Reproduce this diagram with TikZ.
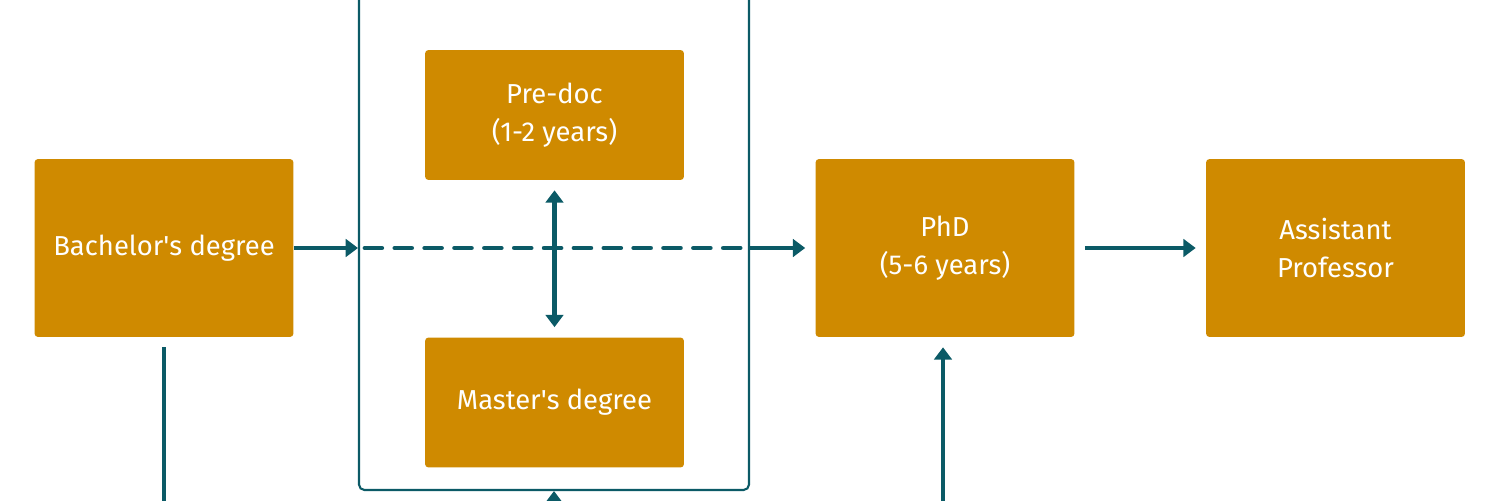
\documentclass[tikz,border=0pt]{standalone}
\usepackage{fontspec}
\setmainfont{Fira Sans}
\usetikzlibrary{arrows.meta}
\definecolor{gold}{HTML}{CF8A00}
\definecolor{teal}{HTML}{0B5A66}
\tikzset{
  >={Triangle[length=7pt,width=10pt]},
  {step box/.style} ={rectangle, rounded corners=2pt, fill=gold,
                      text=white, align=center, inner sep=0,
                      font=\fontsize{15.6}{21.5}\selectfont,
                      minimum width=5.18cm},
  {tall box/.style} ={step box, minimum height=3.56cm},
  {short box/.style} ={step box, minimum height=2.6cm},
  {frame box/.style} ={draw=teal, line width=1.2pt, rounded corners=3pt,
                       minimum width=7.8cm, minimum height=10.4cm},
  {link/.style} ={draw=teal, line width=2.8pt},
  {gap/.style} ={shorten >=0.2cm, shorten <=0.2cm},
}
\begin{document}
\begin{tikzpicture}[x=0.02cm, y=-0.02cm]
\useasboundingbox (0,0) rectangle (1500,500);
\clip (0,0) rectangle (1500,500);
\node[frame box] (frame) at (554,230) {};
\node[tall box] (bach) at (164,248) {Bachelor\textquotesingle s degree};
\node[short box] (predoc) at (554.5,115) {Pre-doc\\(1-2 years)};
\node[short box] (master) at (554.5,402.5) {Master\textquotesingle s degree};
\node[tall box] (phd) at (945,248) {PhD\\(5-6 years)};
\node[tall box] (prof) at (1335.5,248) {Assistant\\Professor};
\coordinate (bachlow) at (164,530);
\coordinate (phdlow) at (943,530);
\coordinate (framelow) at (554,530);
% main line
\path[link,->] (bach.east) -- (bach.east -| frame.west);
\path[link,dash pattern=on 9.5pt off 7.5pt,line cap=round]
      ([xshift=4pt]bach.east -| frame.west) -- (bach.east -| frame.east);
\path[link,->,shorten >=0.2cm] (bach.east -| frame.east) -- (phd.west);
\path[link,->,gap] (phd) -- (prof);
\path[link,<->,gap] (predoc) -- (master);
% lines off the bottom
\path[link,shorten <=0.2cm] (bach) -- (bachlow);
\path[link,->,shorten >=0.2cm] (phdlow) -- (phdlow |- phd.south);
\path[link,->] (framelow) -- (frame.south);
\end{tikzpicture}
\end{document}
